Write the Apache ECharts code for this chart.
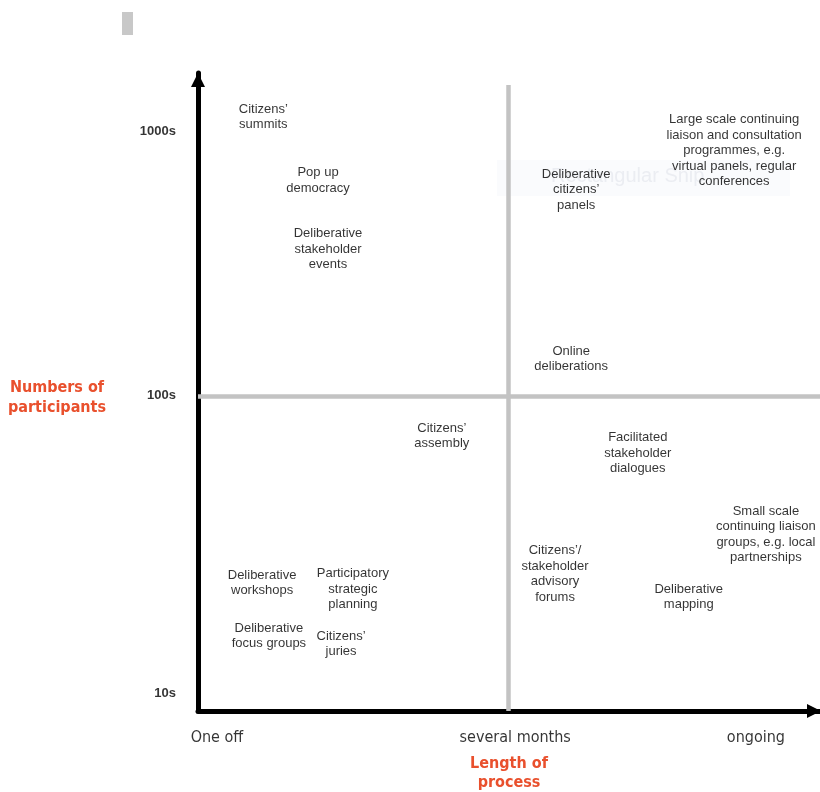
<!DOCTYPE html>
<html>
<head>
<meta charset="utf-8">
<script src="https://cdn.jsdelivr.net/npm/echarts@6/dist/echarts.min.js"></script>
<style>html,body{margin:0;padding:0;background:#fff}#c{width:820px;height:792px}</style>
</head>
<body>
<div id="c"></div>
<script>
// Items placed on the grid: x = length of process (0-100), y = number of participants (0-100 position)
const itemNames = [
  "Citizens’\nsummits",
  "Pop up\ndemocracy",
  "Deliberative\nstakeholder\nevents",
  "Deliberative\ncitizens’\npanels",
  "Large scale continuing\nliaison and consultation\nprogrammes, e.g.\nvirtual panels, regular\nconferences",
  "Online\ndeliberations",
  "Citizens’\nassembly",
  "Facilitated\nstakeholder\ndialogues",
  "Small scale\ncontinuing liaison\ngroups, e.g. local\npartnerships",
  "Citizens’/\nstakeholder\nadvisory\nforums",
  "Deliberative\nmapping",
  "Deliberative\nworkshops",
  "Participatory\nstrategic\nplanning",
  "Deliberative\nfocus groups",
  "Citizens’\njuries"
];
const itemX = [10.5, 19.3, 20.9, 60.8, 86.2, 60.0, 39.2, 70.7, 91.3, 57.4, 78.9, 10.3, 24.9, 11.4, 23.0];
const itemY = [93.1, 83.2, 72.4, 81.7, 87.8, 55.2, 43.1, 40.4, 27.7, 21.5, 17.9, 20.1, 19.1, 11.8, 10.5];

const xTickLabels = ["One off", "several months", "ongoing"];
const xTickPos = [3.05, 51.0, 89.7];
const yTickLabels = ["1000s", "100s", "10s"];
const yTickPos = [90.9, 49.4, 2.8];

const quadX = 49.8;
const quadY = 49.4;
const quadTopY = 98.1;

const chart = echarts.init(document.getElementById('c'));
const bodyFont = { fontFamily: 'Liberation Sans', fontSize: 13, color: '#000', lineHeight: 15.5, align: 'center', verticalAlign: 'middle' };
const redName = { fontFamily: 'DejaVu Sans Condensed', fontWeight: 'bold', fontSize: 16, color: '#e9502d', align: 'center' };
const option = {
  animation: false,
  grid: { left: 198, top: 73, width: 622, height: 638, containLabel: false, outerBoundsMode: 'none' },
  xAxis: {
    type: 'value', min: 0, max: 100,
    name: 'Length of\nprocess', nameLocation: 'middle', nameGap: 62,
    nameTextStyle: { ...redName, lineHeight: 19, verticalAlign: 'middle' },
    axisLine: { show: true, lineStyle: { color: '#000', width: 5 }, symbol: ['none', 'triangle'], symbolSize: [14, 14], symbolOffset: [0, -6] },
    axisTick: { show: false }, axisLabel: { show: false }, splitLine: { show: false }
  },
  yAxis: {
    type: 'value', min: 0, max: 100,
    name: '{s| }\n{a|Numbers of}\n{a|participants}', nameLocation: 'middle', nameGap: 141, nameRotate: 0,
    nameTextStyle: {
      ...redName, verticalAlign: 'middle',
      rich: {
        s: { fontSize: 10, lineHeight: 12 },
        a: { ...redName, lineHeight: 20 }
      }
    },
    axisLine: { show: true, lineStyle: { color: '#000', width: 5 }, symbol: ['none', 'triangle'], symbolSize: [14, 14], symbolOffset: [0, -7] },
    axisTick: { show: false }, axisLabel: { show: false }, splitLine: { show: false }
  },
  graphic: [
    { type: 'rect', left: 122, top: 12, z: 0, shape: { width: 11, height: 23 }, style: { fill: '#c8c8c8' } },
    { type: 'rect', left: 497, top: 160, z: 0, shape: { width: 293, height: 36 }, style: { fill: '#fafbfd' } },
    { type: 'text', left: 551, top: 166, z: 0, style: { text: 'Rectangular Snip', font: '20px "Liberation Sans"', fill: '#ebedf2' } }
  ],
  series: [
    {
      type: 'scatter', z: 3, symbolSize: 0,
      data: itemNames.map((n, i) => ({ name: n, value: [itemX[i], itemY[i]] })),
      label: { show: true, position: 'inside', formatter: p => p.name, ...bodyFont },
      markLine: {
        silent: true, symbol: 'none', z: 1,
        lineStyle: { color: '#c3c3c3', width: 4.5, type: 'solid' },
        label: { show: false },
        data: [
          [{ coord: [quadX, 0] }, { coord: [quadX, quadTopY] }],
          [{ coord: [0, quadY] }, { coord: [100, quadY] }]
        ]
      }
    },
    {
      type: 'scatter', z: 3, symbolSize: 0,
      data: yTickLabels.map((n, i) => ({ name: n, value: [0, yTickPos[i]] })),
      label: { show: true, position: 'left', distance: 22, formatter: p => p.name, fontFamily: 'Liberation Sans', fontWeight: 'bold', fontSize: 13, color: '#000' }
    },
    {
      type: 'scatter', z: 3, symbolSize: 0,
      data: xTickLabels.map((n, i) => ({ name: n, value: [xTickPos[i], 0] })),
      label: { show: true, position: 'bottom', distance: 19, formatter: p => p.name, fontFamily: 'DejaVu Sans Condensed', fontSize: 16, color: '#000' }
    }
  ]
};
chart.setOption(option);
</script>
</body>
</html>
